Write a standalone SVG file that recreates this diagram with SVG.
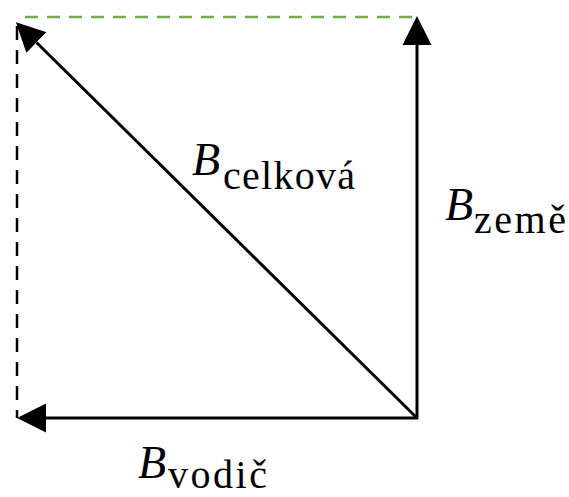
<svg xmlns="http://www.w3.org/2000/svg" width="569" height="497" viewBox="0 0 569 497">
<style>
.vec{stroke:#000;stroke-width:3;fill:none}
.B{font-family:"Liberation Serif","Times New Roman",serif;font-style:italic;font-size:46px;fill:#000}
.sub{font-family:"Liberation Serif","Times New Roman",serif;font-size:40px;fill:#000}
</style>
<defs>
<marker id="ah" markerUnits="userSpaceOnUse" markerWidth="30" markerHeight="30" viewBox="0 -14 28 28" refX="0" refY="0" orient="auto">
<path d="M0,-13.5 L27,0 L0,13.5 z" fill="#000"/>
</marker>
</defs>
<g id="guides">
<line x1="25" y1="17" x2="417" y2="17" stroke="#70AD47" stroke-width="2.5" stroke-dasharray="13,9"/>
<line x1="17" y1="26" x2="17" y2="418" stroke="#000" stroke-width="2.5" stroke-dasharray="14,10"/>
</g>
<g id="connectors">
<line class="vec" x1="417" y1="419" x2="417" y2="45" marker-end="url(#ah)"/>
<line class="vec" x1="418" y1="418" x2="46" y2="418" marker-end="url(#ah)"/>
<line class="vec" x1="417" y1="418" x2="36.5" y2="42.5" marker-end="url(#ah)"/>
</g>
<g id="label-celkova">
<text class="B" x="192" y="175">B</text>
<text class="sub" x="223" y="189" textLength="132" lengthAdjust="spacing">celková</text>
</g>
<g id="label-zeme">
<text class="B" x="445" y="220">B</text>
<text class="sub" x="474" y="233" textLength="92" lengthAdjust="spacing">země</text>
</g>
<g id="label-vodic">
<text class="B" x="138" y="478">B</text>
<text class="sub" x="168" y="488" textLength="99" lengthAdjust="spacing">vodič</text>
</g>
</svg>
